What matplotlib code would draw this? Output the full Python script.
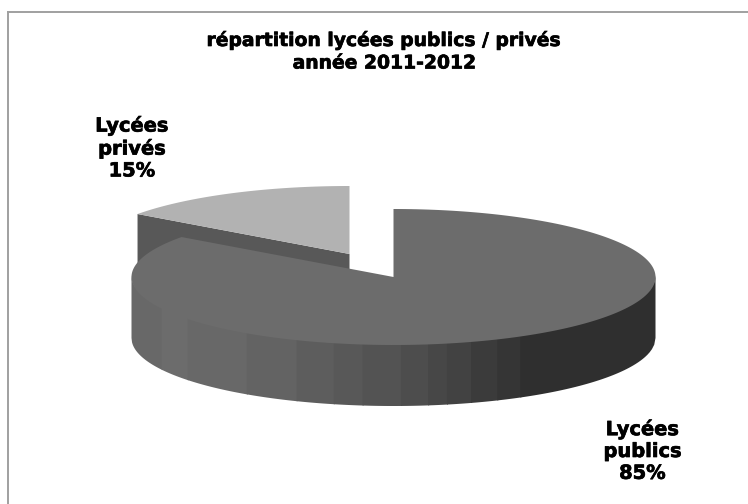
import numpy as np
import matplotlib
matplotlib.use("Agg")
import matplotlib.pyplot as plt
import matplotlib.patheffects as pe

# Share of upper-secondary schools, school year 2011-2012
categories = ["Lycées\npublics", "Lycées\nprivés"]
shares = [85, 15]
title_lines = ["répartition lycées publics / privés", "année 2011-2012"]

W, H = 748, 504
RX, RY, DEPTH = 262, 68, 61
CENTRE_PUBLIC = (393.5, 277)
CENTRE_PRIVATE = (349.5, 254)
TOP_COLOURS = ["#6c6c6c", "#b2b2b2"]
CUT_FACE = "#585858"
INK = "#000000"

# Shaded strips along the front rim: right edge of each strip as a fraction
# of the pie width, and the grey used for that strip
STRIP_EDGES = [0, .0574, .107, .220, .315, .386, .441, .514, .566, .602, .648, .698, .742, 1]
STRIP_GREYS = ["#686868", "#6c6c6c", "#686868", "#636363", "#5d5d5d", "#585858", "#535353",
               "#4d4d4d", "#474747", "#424242", "#3b3b3b", "#353535", "#2f2f2f"]

fig = plt.figure(figsize=(W / 100, H / 100), dpi=100, facecolor="white")
ax = fig.add_axes([0, 0, 1, 1])
ax.set_xlim(0, W)
ax.set_ylim(H, 0)
ax.axis("off")

# Chart frame, running off the bottom and right of the canvas
ax.plot([8.5, 8.5], [H + 5, 11.5], color="#a0a0a0", lw=1.4)
ax.plot([8.5, W + 5], [11.5, 11.5], color="#a0a0a0", lw=1.4)


def rim(centre, a0, a1, n=240):
    """Points on the projected circle; angles run clockwise from 12 o'clock."""
    t = np.radians(np.linspace(a0, a1, n))
    return centre[0] + RX * np.sin(t), centre[1] - RY * np.cos(t)


sweep_public = 360 * shares[0] / sum(shares)

# Detached private slice: back cut face first, then its top
ex, ey = rim(CENTRE_PRIVATE, sweep_public, sweep_public, 1)
ax.fill([ex[0], CENTRE_PRIVATE[0], CENTRE_PRIVATE[0], ex[0]],
        [ey[0], CENTRE_PRIVATE[1], CENTRE_PRIVATE[1] + DEPTH, ey[0] + DEPTH],
        color=CUT_FACE, lw=0)
x, y = rim(CENTRE_PRIVATE, sweep_public, 360)
ax.fill(np.r_[CENTRE_PRIVATE[0], x], np.r_[CENTRE_PRIVATE[1], y], color=TOP_COLOURS[1], lw=0)

# Front rim of the public slice, built from vertical strips; each strip starts
# a little under the top face so no seam shows along the ellipse
left = CENTRE_PUBLIC[0] - RX
for e0, e1, grey in zip(STRIP_EDGES[:-1], STRIP_EDGES[1:], STRIP_GREYS):
    xs = np.linspace(left + e0 * 2 * RX, left + (e1 + .002) * 2 * RX, 60).clip(left, left + 2 * RX)
    ys = CENTRE_PUBLIC[1] + RY * np.sqrt(np.clip(1 - ((xs - CENTRE_PUBLIC[0]) / RX) ** 2, 0, 1))
    ax.fill(np.r_[xs, xs[::-1]], np.r_[ys - 1.5, ys[::-1] + DEPTH], color=grey, lw=0)

# Top of the public slice
x, y = rim(CENTRE_PUBLIC, 0, sweep_public)
ax.fill(np.r_[CENTRE_PUBLIC[0], x], np.r_[CENTRE_PUBLIC[1], y], color=TOP_COLOURS[0], lw=0)

heavy = [pe.withStroke(linewidth=0.5, foreground=INK)]
font = dict(family="DejaVu Sans", weight="bold", color=INK, ha="center",
            va="center", path_effects=heavy)

ax.text(384, 40, title_lines[0], fontsize=13.5, **font)
ax.text(384, 63, title_lines[1], fontsize=13.5, **font)

ax.text(132, 148, f"{categories[1]}\n{shares[1]}%", fontsize=14, linespacing=1.19, **font)
ax.text(642.5, 451, f"{categories[0]}\n{shares[0]}%", fontsize=14, linespacing=1.19, **font)

fig.savefig("out.png", dpi=100, facecolor="white")
